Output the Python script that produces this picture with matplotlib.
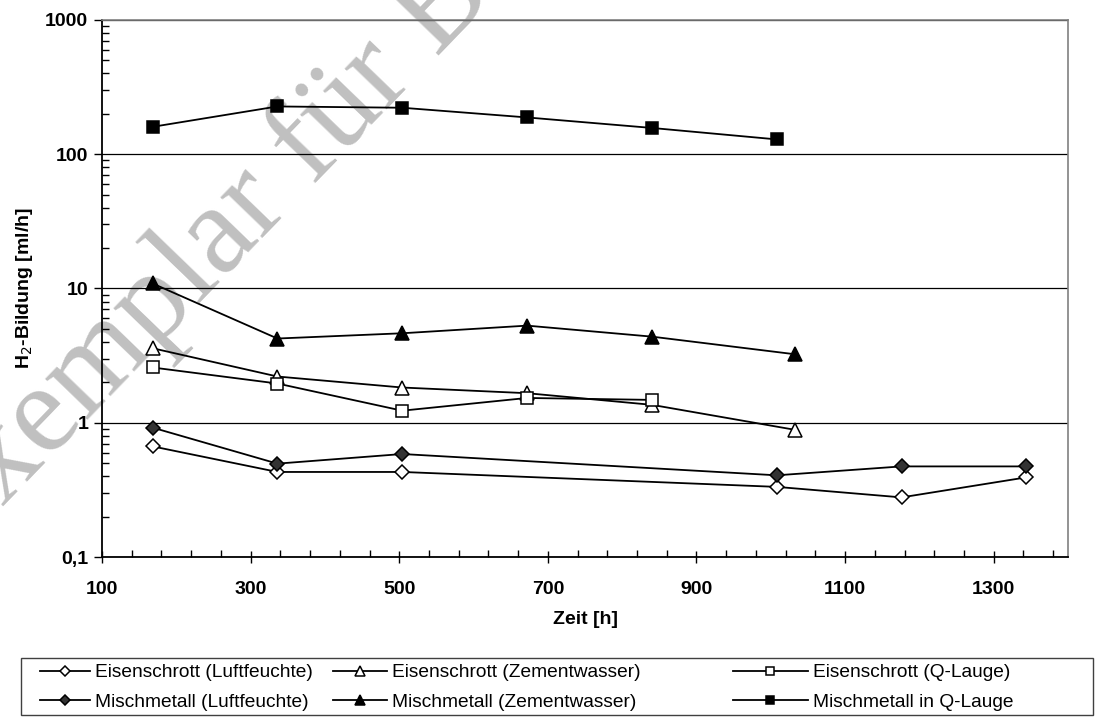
import matplotlib
matplotlib.use("Agg")
import matplotlib.pyplot as plt
from matplotlib.patches import Rectangle
from matplotlib.ticker import FixedLocator, LogLocator, FuncFormatter, NullFormatter

plt.rcParams['font.family'] = ['Liberation Sans', 'DejaVu Sans']

# Zeitpunkte [h]
t_eisen_luft = [168, 336, 504, 1008, 1176, 1344]
t_eisen_zem = [168, 336, 504, 672, 840, 1032]
t_eisen_q = [168, 336, 504, 672, 840]
t_misch_luft = [168, 336, 504, 1008, 1176, 1344]
t_misch_zem = [168, 336, 504, 672, 840, 1032]
t_misch_q = [168, 336, 504, 672, 840, 1008]

# H2-Bildung [ml/h]
h2_eisen_luft = [0.667, 0.43, 0.43, 0.333, 0.278, 0.392]
h2_eisen_zem = [3.59, 2.21, 1.83, 1.66, 1.36, 0.887]
h2_eisen_q = [2.58, 1.96, 1.23, 1.53, 1.48]
h2_misch_luft = [0.92, 0.496, 0.585, 0.406, 0.473, 0.473]
h2_misch_zem = [10.9, 4.24, 4.64, 5.29, 4.38, 3.24]
h2_misch_q = [160, 227, 222, 188, 157, 129]

labels = ["Eisenschrott (Luftfeuchte)", "Eisenschrott (Zementwasser)",
          "Eisenschrott (Q-Lauge)", "Mischmetall (Luftfeuchte)",
          "Mischmetall (Zementwasser)", "Mischmetall in Q-Lauge"]

W, H = 1114, 719
fig = plt.figure(figsize=(W / 100, H / 100), dpi=100)
ax = fig.add_axes([0.0916, 0.2253, 0.8671, 0.7469])
ax.patch.set_alpha(0)

# Wasserzeichen
fig.text(-50 / W, 1 - 562 / H, "Exemplar für B", family=['Liberation Serif', 'DejaVu Serif'],
         fontsize=91, color='#c0c0c0', rotation=46, rotation_mode='anchor',
         ha='left', va='baseline', zorder=-5)

kw = dict(color='black', lw=1.3, markeredgecolor='black', markeredgewidth=1.1)
ax.plot(t_eisen_luft, h2_eisen_luft, marker='D', ms=7.5, mfc='white', label=labels[0], **kw)
ax.plot(t_eisen_zem, h2_eisen_zem, marker='^', ms=10, mfc='white', label=labels[1], **kw)
ax.plot(t_eisen_q, h2_eisen_q, marker='s', ms=8.5, mfc='white', label=labels[2], **kw)
ax.plot(t_misch_luft, h2_misch_luft, marker='D', ms=7.5, mfc='#333333', label=labels[3], **kw)
ax.plot(t_misch_zem, h2_misch_zem, marker='^', ms=10, mfc='black', label=labels[4], **kw)
ax.plot(t_misch_q, h2_misch_q, marker='s', ms=8.5, mfc='black', label=labels[5], **kw)

ax.set_yscale('log')
ax.set_ylim(0.1, 1000)
ax.set_xlim(100, 1400)
ax.xaxis.set_major_locator(FixedLocator(range(100, 1301, 200)))
ax.xaxis.set_minor_locator(FixedLocator(range(100, 1401, 40)))
ax.yaxis.set_major_locator(LogLocator(base=10, numticks=10))
ax.yaxis.set_minor_locator(LogLocator(base=10, subs=range(2, 10), numticks=10))
ax.yaxis.set_major_formatter(FuncFormatter(lambda v, p: ('%g' % v).replace('.', ',')))
ax.yaxis.set_minor_formatter(NullFormatter())

ax.grid(True, which='major', axis='y', color='black', lw=0.9)
ax.tick_params(axis='x', which='major', direction='inout', length=9, width=1, pad=13)
ax.tick_params(axis='y', which='major', direction='out', length=6, width=1, pad=4)
ax.tick_params(which='minor', direction='in', length=5, width=1)
for lab in ax.get_xticklabels() + ax.get_yticklabels():
    lab.set_fontsize(14)
    lab.set_fontweight('bold')

for s in ['top', 'right']:
    ax.spines[s].set_color('#808080')
    ax.spines[s].set_linewidth(1.2)
for s in ['left', 'bottom']:
    ax.spines[s].set_color('black')
    ax.spines[s].set_linewidth(1.3)

ax.set_xlabel('Zeit [h]', fontsize=14, fontweight='bold', labelpad=9)
ax.set_ylabel('H$_2$-Bildung [ml/h]', fontsize=14, fontweight='bold', labelpad=7)

# Legende: Rahmen und drei Spalten
fig.patches.append(Rectangle((21 / W, 1 - 715 / H), 1072 / W, 57 / H,
                             transform=fig.transFigure, fill=False,
                             edgecolor='#404040', lw=1.0))
handles, labs = ax.get_legend_handles_labels()
columns = [([0, 3], 40, 2.6), ([1, 4], 333, 2.8), ([2, 5], 733, 3.9)]
for idx, x0, hl in columns:
    fig.legend([handles[i] for i in idx], [labs[i] for i in idx], ncol=1,
               loc='upper left', bbox_to_anchor=(x0 / W, 1 - 664 / H),
               fontsize=13.8, frameon=False, handlelength=hl, markerscale=0.65,
               borderpad=0, labelspacing=0.62, handletextpad=0.26, borderaxespad=0)

fig.savefig('out.png', dpi=100)
